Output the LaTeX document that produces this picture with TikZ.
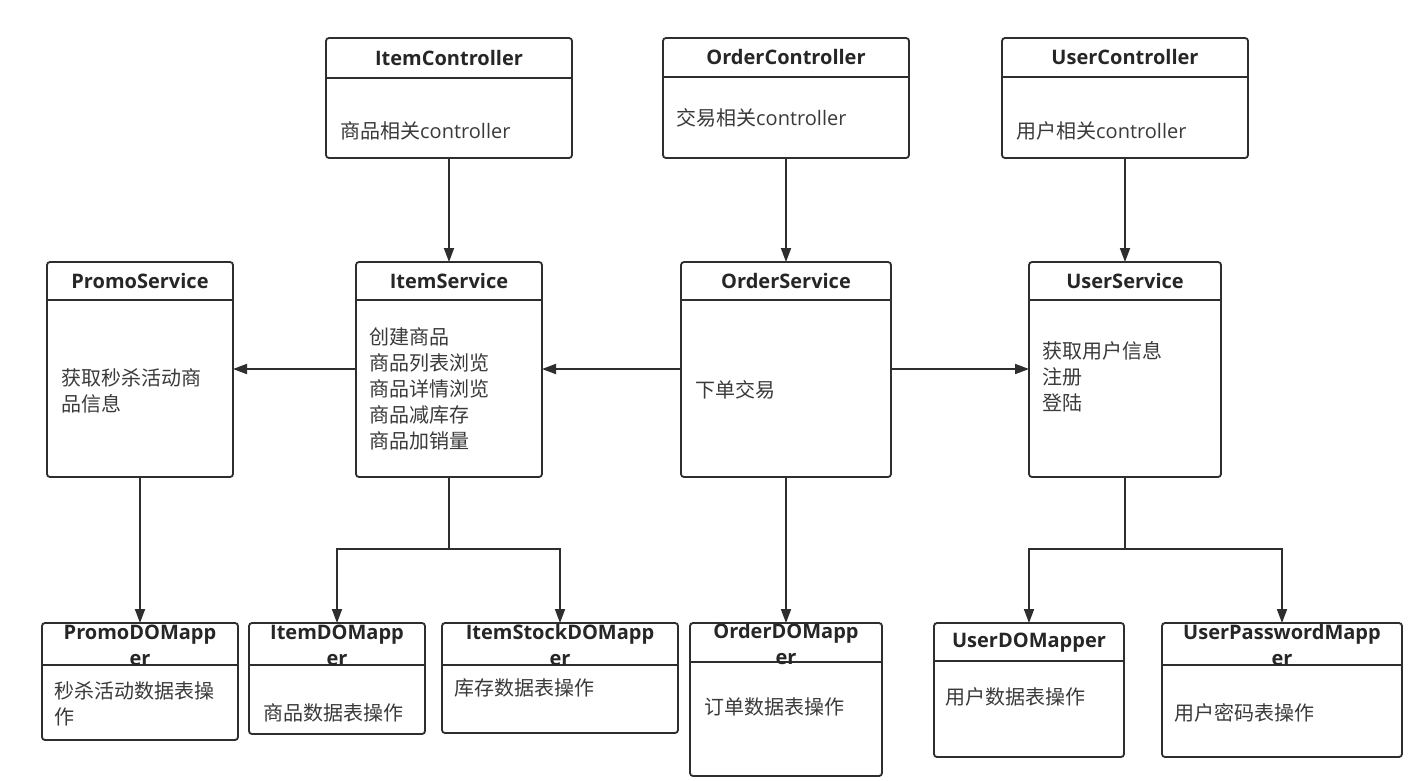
\documentclass[tikz,border=0pt]{standalone}
\usepackage{fontspec}
\setmainfont{Open Sans}
\newfontfamily\lat{Open Sans}
\newfontfamily\cjk{Noto Sans CJK SC}
\usetikzlibrary{arrows.meta}
\definecolor{ink}{HTML}{2E2E2E}
\definecolor{txt}{HTML}{3A3A3A}
\begin{document}
\begin{tikzpicture}[x=1pt,y=-1pt,
 umlbox/.style={draw=ink, line width=1.8pt, rounded corners=3pt, inner sep=0pt, outer sep=0pt, anchor=north west},
 hline/.style={draw=ink, line width=1.6pt},
 conn/.style={draw=ink, line width=1.8pt},
 arr/.style={conn, -{Triangle[length=14pt,width=10pt]}},
 ttl/.style={font=\fontsize{20}{26}\selectfont\bfseries, text=black!85, align=center, inner sep=0pt},
 bodytext/.style={font=\fontsize{20}{26}\selectfont\cjk, text=txt, align=left, inner sep=0pt, anchor=west},
]
\fill[white] (0,0) rectangle (1428,780);
\useasboundingbox (0,0) rectangle (1428,780);

% boxes
\node[umlbox, minimum width=246pt, minimum height=120pt] (ic) at (326,38) {};
\node[umlbox, minimum width=246pt, minimum height=120pt] (oc) at (663,38) {};
\node[umlbox, minimum width=246pt, minimum height=120pt] (uc) at (1002,38) {};
\node[umlbox, minimum width=186pt, minimum height=215pt] (ps) at (47,262) {};
\node[umlbox, minimum width=186pt, minimum height=215pt] (is) at (356,262) {};
\node[umlbox, minimum width=210pt, minimum height=215pt] (os) at (681,262) {};
\node[umlbox, minimum width=192pt, minimum height=215pt] (us) at (1029,262) {};
\node[umlbox, minimum width=196pt, minimum height=117pt] (pm) at (42,623) {};
\node[umlbox, minimum width=176pt, minimum height=111pt] (im) at (249,623) {};
\node[umlbox, minimum width=236pt, minimum height=110pt] (ism) at (442,623) {};
\node[umlbox, minimum width=192pt, minimum height=153pt] (om) at (690,623) {};
\node[umlbox, minimum width=190pt, minimum height=134pt] (um) at (934,623) {};
\node[umlbox, minimum width=240pt, minimum height=134pt] (upm) at (1162,623) {};

% header separators
\draw[hline] (ic.west |- 0,78) -- (ic.east |- 0,78);
\draw[hline] (oc.west |- 0,77) -- (oc.east |- 0,77);
\draw[hline] (uc.west |- 0,77) -- (uc.east |- 0,77);
\draw[hline] (ps.west |- 0,300) -- (ps.east |- 0,300);
\draw[hline] (is.west |- 0,300) -- (is.east |- 0,300);
\draw[hline] (os.west |- 0,300) -- (os.east |- 0,300);
\draw[hline] (us.west |- 0,300) -- (us.east |- 0,300);
\draw[hline] (pm.west |- 0,665) -- (pm.east |- 0,665);
\draw[hline] (im.west |- 0,665) -- (im.east |- 0,665);
\draw[hline] (ism.west |- 0,665) -- (ism.east |- 0,665);
\draw[hline] (om.west |- 0,662) -- (om.east |- 0,662);
\draw[hline] (um.west |- 0,661) -- (um.east |- 0,661);
\draw[hline] (upm.west |- 0,665) -- (upm.east |- 0,665);

% titles
\node[ttl] (ic-t) at (449,58) {ItemController};
\node[ttl] (oc-t) at (786,57) {OrderController};
\node[ttl] (uc-t) at (1125,57) {UserController};
\node[ttl] (ps-t) at (140,281) {PromoService};
\node[ttl] (is-t) at (449,281) {ItemService};
\node[ttl] (os-t) at (786,281) {OrderService};
\node[ttl] (us-t) at (1125,281) {UserService};
\node[ttl] (pm-t) at (140,645) {PromoDOMapp\\er};
\node[ttl] (im-t) at (337,645) {ItemDOMapp\\er};
\node[ttl] (ism-t) at (560,645) {ItemStockDOMapp\\er};
\node[ttl] (om-t) at (786,644) {OrderDOMapp\\er};
\node[ttl] (um-t) at (1029,643) {UserDOMapper};
\node[ttl] (upm-t) at (1282,645) {UserPasswordMapp\\er};

% body texts
\node[bodytext] (ic-b) at (340,131) {商品相关\lat controller};
\node[bodytext] (oc-b) at (676,118) {交易相关\lat controller};
\node[bodytext] (uc-b) at (1016,131) {用户相关\lat controller};
\node[bodytext] (ps-b) at (61,391) {获取秒杀活动商\\品信息};
\node[bodytext] (is-b) at (369,389) {创建商品\\商品列表浏览\\商品详情浏览\\商品减库存\\商品加销量};
\node[bodytext] (os-b) at (695,390) {下单交易};
\node[bodytext] (us-b) at (1042,377) {获取用户信息\\注册\\登陆};
\node[bodytext] (pm-b) at (54,704) {秒杀活动数据表操\\作};
\node[bodytext] (im-b) at (263,713) {商品数据表操作};
\node[bodytext] (ism-b) at (454,688) {库存数据表操作};
\node[bodytext] (om-b) at (704,707) {订单数据表操作};
\node[bodytext] (um-b) at (945,697) {用户数据表操作};
\node[bodytext] (upm-b) at (1174,713) {用户密码表操作};

% connectors
\draw[arr] (ic.south) -- (is.north);
\draw[arr] (oc.south) -- (os.north);
\draw[arr] (uc.south) -- (us.north);
\draw[arr] (os.west |- 0,369) -- (is.east |- 0,369);
\draw[arr] (is.west |- 0,369) -- (ps.east |- 0,369);
\draw[arr] (os.east |- 0,369) -- (us.west |- 0,369);
\draw[arr] (ps.south) -- (pm.north);
\draw[arr] (os.south) -- (om.north);
\coordinate (ibr) at (is.south |- 0,549);
\coordinate (ubr) at (us.south |- 0,549);
\draw[conn] (is.south) -- (ibr);
\draw[arr] (ibr) -| (im.north);
\draw[arr] (ibr) -| (ism.north);
\draw[conn] (us.south) -- (ubr);
\draw[arr] (ubr) -| (um.north);
\draw[arr] (ubr) -| (upm.north);
\end{tikzpicture}
\end{document}
